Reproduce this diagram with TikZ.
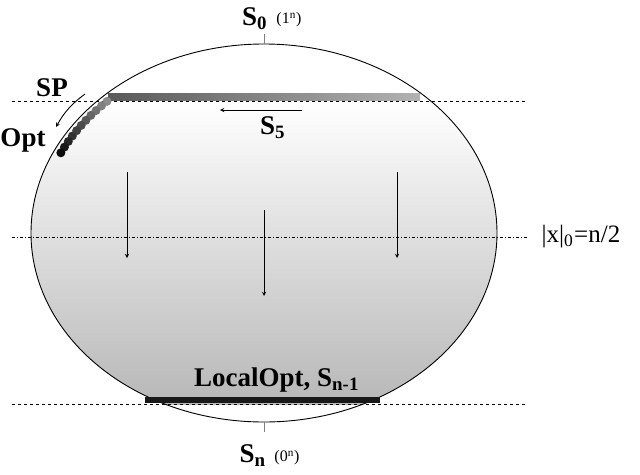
\documentclass[tikz,border=0pt]{standalone}
\usepackage{fontspec}
\setmainfont{Liberation Serif}
\begin{document}
\begin{tikzpicture}[x=1pt,y=-1pt,
  lbl/.style={font=\bfseries,scale=2.7,inner sep=0.3pt},
  sm/.style={scale=1.6},
  guide/.style={dashed,line width=1pt},
  arr/.style={-stealth,line width=0.9pt}]
\useasboundingbox (0,0) rectangle (640,474);
\begin{scope}
  \clip (264,233) ellipse [x radius=233,y radius=189];
  \shade[top color=white,bottom color=black!28] (20,101) rectangle (510,404);
\end{scope}
\draw[line width=0.9pt] (264,233) ellipse [x radius=233,y radius=189];
\draw[gray] (264,34) -- (264,44);
\draw[gray] (264,422) -- (264,432);
\draw[guide] (12,101) -- (527,101);
\draw[line width=1pt,dash dot] (12,237) -- (527,237);
\draw[guide] (12,404) -- (527,404);
\shade[left color=black!65,right color=black!30] (108,93) rectangle (420,100);
\fill[black!90] (145,397) rectangle (380,403);
\foreach \a [count=\i] in {134,136,...,154} {
  \pgfmathtruncatemacro\g{40+5*\i}
  \fill[black!\g] ({264+226*cos(\a)},{233-183*sin(\a)}) circle (4.5);
}
\node[lbl] (s0) at (255,19) {S\textsubscript{0}};
\node[sm] (s0b) at (289,20) {(1\textsuperscript{n})};
\node[lbl] (sp) at (52,88) {SP};
\node[lbl] (opt) at (23,140) {Opt};
\node[lbl] (s5) at (273,128) {S\textsubscript{5}};
\node[scale=2.5] (half) at (581,237) {|x|\textsubscript{0}=n/2};
\node[lbl] (lo) at (277,380) {LocalOpt, S\textsubscript{n-1}};
\node[lbl] (sn) at (253,456) {S\textsubscript{n}};
\node[sm] (snb) at (287,458) {(0\textsuperscript{n})};
\coordinate (a1) at (302,110); \coordinate (a2) at (220,110);
\draw[arr] (a1) -- (a2);
\coordinate (b1) at (85,94); \coordinate (b2) at (56,127);
\draw[arr] (b1) to[bend right=12] (b2);
\foreach \x/\y in {127/172,264/210,397/172} {
  \coordinate (d\x) at (\x,\y); \coordinate (e\x) at (\x,\y+86);
  \draw[arr] (d\x) -- (e\x);
}
\end{tikzpicture}
\end{document}
